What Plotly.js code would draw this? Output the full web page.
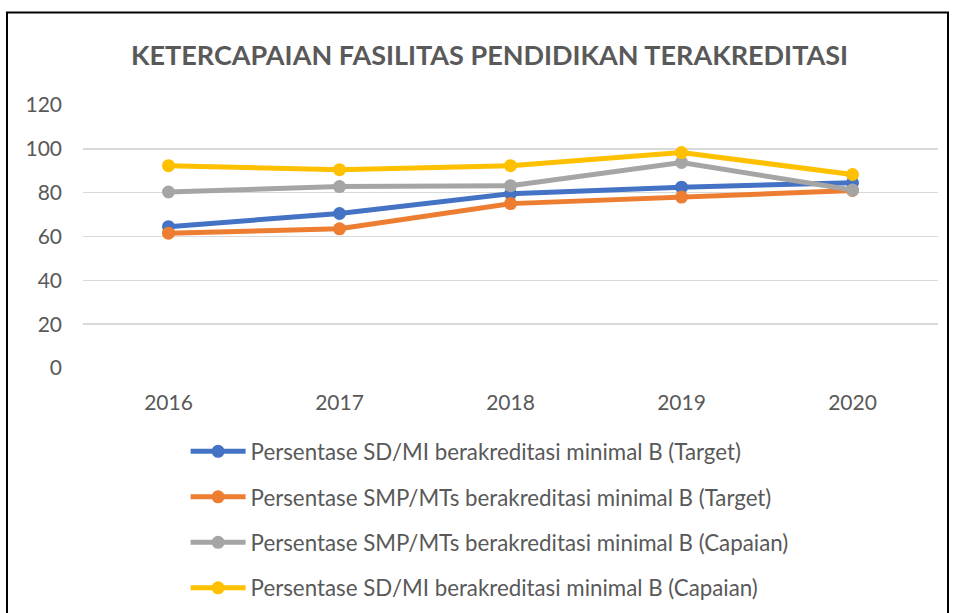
<!DOCTYPE html>
<html>
<head>
<meta charset="utf-8">
<script src="https://cdn.plot.ly/plotly-3.0.1.min.js"></script>
<style>html,body{margin:0;padding:0;background:#fff;}#chart{width:955px;height:613px;}</style>
</head>
<body>
<div id="chart"></div>
<script>
var years = ['2016', '2017', '2018', '2019', '2020'];
var seriesNames = [
  'Persentase SD/MI berakreditasi minimal B (Target)',
  'Persentase SMP/MTs berakreditasi minimal B (Target)',
  'Persentase SMP/MTs berakreditasi minimal B (Capaian)',
  'Persentase SD/MI berakreditasi minimal B (Capaian)'
];
var sdTarget = [64.5, 70.5, 79.5, 82.5, 84.5];
var smpTarget = [61.5, 63.5, 75, 78, 81];
var smpCapaian = [80.3, 82.8, 83.2, 93.8, 81.2];
var sdCapaian = [92.3, 90.5, 92.3, 98.3, 88.3];
var colors = ['#4472C4', '#ED7D31', '#A5A5A5', '#FFC000'];
var yTicks = [0, 20, 40, 60, 80, 100, 120];

var allValues = [sdTarget, smpTarget, smpCapaian, sdCapaian];
var FONT = 'Lato, "Open Sans", sans-serif';

var traces = allValues.map(function (vals, i) {
  return {
    type: 'scatter',
    mode: 'lines+markers',
    x: years,
    y: vals,
    name: seriesNames[i],
    legendgroup: 'g' + i,
    line: { color: colors[i], width: 5 },
    marker: { color: colors[i], size: 13 },
    hoverinfo: 'x+y'
  };
});

var layout = {
  width: 955,
  height: 613,
  margin: { l: 83, r: 17, t: 105, b: 245, autoexpand: false },
  paper_bgcolor: '#ffffff',
  plot_bgcolor: '#ffffff',
  font: { family: FONT, color: '#595959', size: 20 },
  title: {
    text: '<b>KETERCAPAIAN FASILITAS PENDIDIKAN TERAKREDITASI</b>',
    font: { family: FONT, size: 27, color: '#595959' },
    x: 0.5126, xanchor: 'center', xref: 'container',
    y: 0.91, yanchor: 'middle', yref: 'container'
  },
  xaxis: {
    type: 'category',
    range: [-0.5, 4.5],
    showgrid: false,
    zeroline: false,
    showline: false,
    ticks: '',
    automargin: false,
    ticklabelstandoff: 20,
    tickfont: { family: FONT, size: 21, color: '#595959' }
  },
  yaxis: {
    range: [0, 120],
    tickvals: yTicks,
    ticktext: yTicks.map(String),
    showgrid: true,
    gridcolor: '#D9D9D9',
    gridwidth: 1.5,
    zeroline: false,
    showline: false,
    ticks: '',
    automargin: false,
    ticklabelstandoff: 20,
    tickfont: { family: FONT, size: 21, color: '#595959' }
  },
  showlegend: true,
  legend: {
    orientation: 'v',
    x: 0.12, xanchor: 'left',
    y: -0.237, yanchor: 'top',
    itemwidth: 55,
    tracegroupgap: 13.5,
    font: { family: FONT, size: 22.3, color: '#595959' },
    bgcolor: 'rgba(0,0,0,0)'
  },
  shapes: [{
    type: 'rect', xref: 'paper', yref: 'paper',
    x0: -0.0889, x1: 1.0117, y0: -1.2, y1: 1.352,
    line: { color: '#000000', width: 2 },
    fillcolor: 'rgba(0,0,0,0)', layer: 'below'
  }]
};

Plotly.newPlot('chart', traces, layout, { displayModeBar: false, staticPlot: true });
</script>
</body>
</html>
